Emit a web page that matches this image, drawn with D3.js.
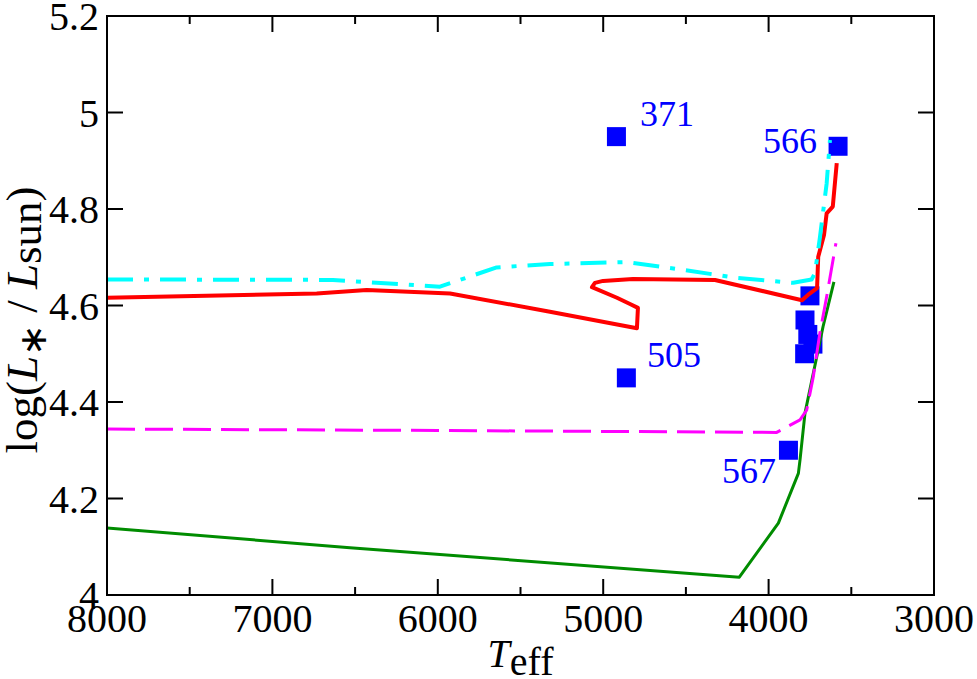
<!DOCTYPE html>
<html>
<head>
<meta charset="utf-8">
<script src="https://cdn.jsdelivr.net/npm/d3@7"></script>
<style>
  body { margin: 0; background: #fff; }
  text { font-family: "Liberation Serif", "Times New Roman", serif; }
</style>
</head>
<body>
<svg id="chart" width="977" height="679"></svg>
<script>
// stars: name, Teff, log L
const starNames = ["371", "566", "505", "567", "c1", "c2", "c3", "c4", "c5"];
const starTeff = [4920, 3580, 4860, 3880, 3750, 3780, 3763, 3732, 3782];
const starLogL = [4.95, 4.93, 4.45, 4.30, 4.62, 4.57, 4.54, 4.52, 4.50];

// label anchors (start of text, baseline) in data units
const labelText = ["371", "566", "505", "567"];
const labelTeff = [4777, 4034, 4735, 4282];
const labelLogL = [4.972, 4.917, 4.473, 4.232];

// evolutionary tracks
const redTeff = [8000, 6732, 6430, 5926, 5322, 4796, 4790, 4838, 4917, 5068, 5050, 5001, 4820, 4324, 3798, 3762, 3707, 3700, 3665, 3649, 3612, 3588];
const redLogL = [4.616, 4.625, 4.632, 4.625, 4.587, 4.553, 4.595, 4.603, 4.616, 4.638, 4.647, 4.651, 4.655, 4.653, 4.611, 4.622, 4.636, 4.701, 4.746, 4.791, 4.805, 4.895];

const cyanTeff = [8000, 6634, 5987, 5644, 5322, 4858, 4517, 4191, 3851, 3740, 3720, 3706, 3689, 3649, 3629];
const cyanLogL = [4.654, 4.653, 4.639, 4.679, 4.686, 4.690, 4.674, 4.657, 4.647, 4.654, 4.667, 4.701, 4.743, 4.853, 4.943];

const magentaTeff = [8000, 6000, 3951, 3810, 3770, 3730, 3690, 3649, 3593];
const magentaLogL = [4.344, 4.341, 4.337, 4.363, 4.383, 4.452, 4.543, 4.618, 4.729];

const greenTeff = [8000, 6531, 4177, 3941, 3820, 3810, 3780, 3671, 3605];
const greenLogL = [4.139, 4.098, 4.037, 4.149, 4.252, 4.280, 4.377, 4.556, 4.649];

const xMajor = [8000, 7000, 6000, 5000, 4000, 3000];
const xMinor = [7500, 6500, 5500, 4500, 3500];
const yMajor = [4, 4.2, 4.4, 4.6, 4.8, 5, 5.2];
const yTickLabels = ["4", "4.2", "4.4", "4.6", "4.8", "5", "5.2"];

const svg = d3.select("#chart");
const pL = 107, pT = 16, pR = 934, pB = 595;

const x = d3.scaleLinear().domain([8000, 3000]).range([pL, pR]);
const y = d3.scaleLinear().domain([4, 5.2]).range([pB, pT]);

svg.append("defs").append("clipPath").attr("id", "clip")
  .append("rect").attr("x", pL).attr("y", pT)
  .attr("width", pR - pL).attr("height", pB - pT);

const plot = svg.append("g").attr("clip-path", "url(#clip)");

// squares under the tracks
const sq = 19;
plot.selectAll("rect.star")
  .data(starNames.map((n, i) => ({ n, t: starTeff[i], l: starLogL[i] })))
  .enter().append("rect")
  .attr("class", "star")
  .attr("x", d => x(d.t) - sq / 2)
  .attr("y", d => y(d.l) - sq / 2)
  .attr("width", sq).attr("height", sq)
  .attr("fill", "#0000ff");

const line = d3.line().x(d => x(d[0])).y(d => y(d[1]));
function track(ts, ls, color, width, dash) {
  plot.append("path")
    .datum(ts.map((t, i) => [t, ls[i]]))
    .attr("d", line)
    .attr("fill", "none")
    .attr("stroke", color)
    .attr("stroke-width", width)
    .attr("stroke-linejoin", "round")
    .attr("stroke-dasharray", dash);
}
track(greenTeff, greenLogL, "#008c00", 3, null);
track(magentaTeff, magentaLogL, "#ff00ff", 3, "28,10");
track(redTeff, redLogL, "#ff0000", 4, null);
track(cyanTeff, cyanLogL, "#00ffff", 4, "26,11,5,11");

// labels
svg.selectAll("text.lab")
  .data(labelText.map((s, i) => ({ s, t: labelTeff[i], l: labelLogL[i] })))
  .enter().append("text")
  .attr("class", "lab")
  .attr("x", d => x(d.t)).attr("y", d => y(d.l))
  .attr("font-size", 36)
  .attr("fill", "#0000ff")
  .text(d => d.s);

// axes: ticks inward on all sides
const ax = svg.append("g").attr("stroke", "#000").attr("stroke-width", 2);
ax.append("rect").attr("x", pL).attr("y", pT)
  .attr("width", pR - pL).attr("height", pB - pT).attr("fill", "none");

xMajor.forEach(v => {
  ax.append("line").attr("x1", x(v)).attr("x2", x(v)).attr("y1", pB).attr("y2", pB - 16);
  ax.append("line").attr("x1", x(v)).attr("x2", x(v)).attr("y1", pT).attr("y2", pT + 16);
});
xMinor.forEach(v => {
  ax.append("line").attr("x1", x(v)).attr("x2", x(v)).attr("y1", pB).attr("y2", pB - 8);
  ax.append("line").attr("x1", x(v)).attr("x2", x(v)).attr("y1", pT).attr("y2", pT + 8);
});
yMajor.forEach(v => {
  ax.append("line").attr("y1", y(v)).attr("y2", y(v)).attr("x1", pL).attr("x2", pL + 16);
  ax.append("line").attr("y1", y(v)).attr("y2", y(v)).attr("x1", pR).attr("x2", pR - 16);
});

svg.selectAll("text.xt").data(xMajor).enter().append("text")
  .attr("class", "xt")
  .attr("x", d => x(d)).attr("y", pB + 37)
  .attr("text-anchor", "middle").attr("font-size", 40)
  .text(d => d);

svg.selectAll("text.yt").data(yMajor).enter().append("text")
  .attr("class", "yt")
  .attr("x", pL - 8).attr("y", d => y(d) + 14)
  .attr("text-anchor", "end").attr("font-size", 40)
  .text((d, i) => yTickLabels[i]);

// axis titles
const xt = svg.append("text")
  .attr("x", (pL + pR) / 2).attr("y", 667)
  .attr("text-anchor", "middle").attr("font-size", 40);
xt.append("tspan").attr("font-style", "italic").text("T");
xt.append("tspan").attr("dy", 8).text("eff");

const yt = svg.append("text")
  .attr("transform", "translate(37,320) rotate(-90)")
  .attr("text-anchor", "middle").attr("font-size", 45);
yt.append("tspan").text("log(");
yt.append("tspan").attr("font-style", "italic").text("L");
yt.append("tspan").attr("dy", 9).attr("font-size", 38).text("∗");
yt.append("tspan").attr("dy", -9).text(" / ");
yt.append("tspan").attr("font-style", "italic").text("L");
yt.append("tspan").attr("dy", 4).text("sun");
yt.append("tspan").attr("dy", -4).text(")");
</script>
</body>
</html>
